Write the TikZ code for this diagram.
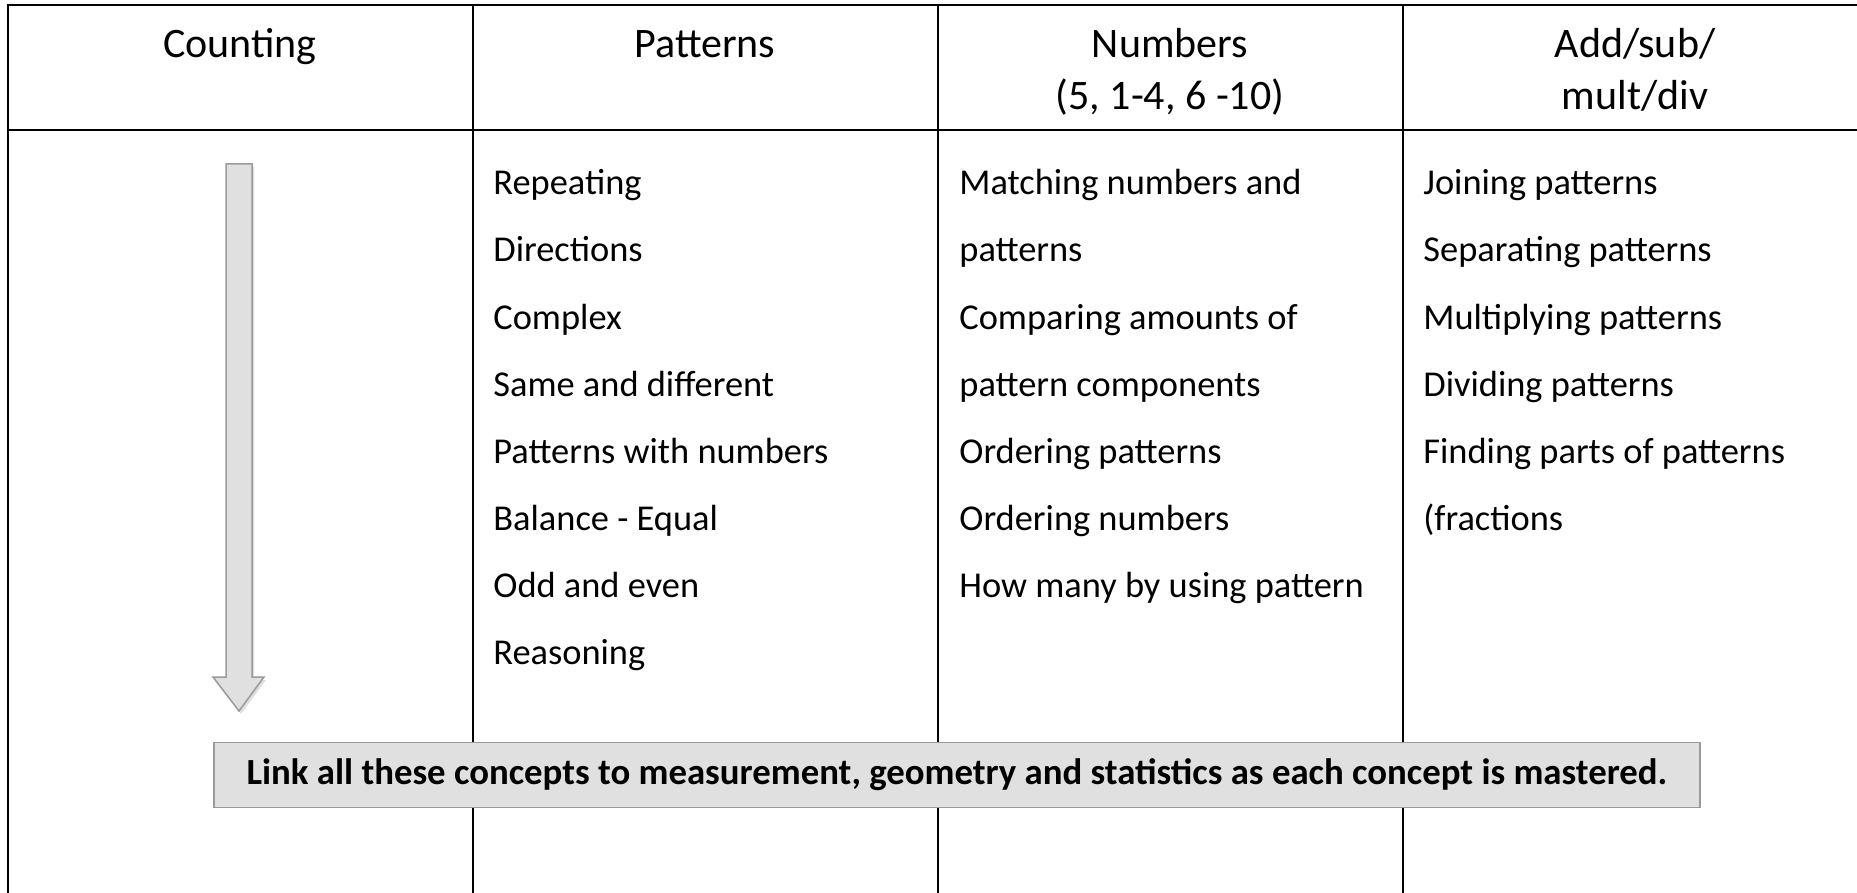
\documentclass[tikz,border=0pt]{standalone}
\usepackage{fontspec}
\setmainfont{Carlito}
\usetikzlibrary{positioning, shadows}
\definecolor{panelgray}{HTML}{E0E0E0}
\definecolor{edgegray}{HTML}{9A9A9A}

\begin{document}
\begin{tikzpicture}[
    x=0.5pt, y=-0.5pt,
    gridline/.style={
        line width=1.3pt,
        draw=black
    },
    head/.style={
        font=\fontsize{21}{26}\selectfont,
        align=center,
        anchor=base,
        inner sep=0pt
    },
    item/.style={
        font=\fontsize{18.2}{22}\selectfont,
        anchor=base west,
        inner sep=0pt
    },
    banner/.style={
        draw=edgegray,
        fill=panelgray,
        line width=0.75pt,
        minimum width=743pt,
        minimum height=32.5pt,
        inner sep=0pt,
        font=\bfseries\fontsize{18.4}{22}\selectfont
    },
    downarrow/.style={
        fill=panelgray,
        draw=edgegray,
        line width=0.75pt,
        drop shadow={opacity=0.25, shadow xshift=1pt, shadow yshift=-1.5pt}
    }
]
\useasboundingbox (0,0) rectangle (1857,893);

% Table grid (right border lies beyond the cropped edge)
\draw[gridline] (8,893) -- (8,5) -- (1857,5);
\draw[gridline] (8,130) -- (1857,130);
\draw[gridline] (473,5) -- (473,893);
\draw[gridline] (938,5) -- (938,893);
\draw[gridline] (1403,5) -- (1403,893);

% Column headers (base = last line)
\node[head] (hcount) at (240, 58) {Counting};
\node[head] (hpattern) at (705, 58) {Patterns};
\node[head] (hnumber) at (1170, 110) {Numbers\\(5, 1-4, 6 -10)};
\node[head] (hoper) at (1635, 110) {Add/sub/\\mult/div};

% Counting arrow
\filldraw[downarrow] (226,164) -- (252,164) -- (252,677) -- (264,677)
    -- (239,711) -- (213,677) -- (226,677) -- cycle;

% Patterns column
\foreach \txt [count=\i] in {Repeating, Directions, Complex, Same and different,
    Patterns with numbers, Balance - Equal, Odd and even, Reasoning}
    \node[item] (pat\i) at (493, {128+67*\i}) {\txt};

% Numbers column
\foreach \txt [count=\i] in {Matching numbers and, patterns, Comparing amounts of,
    pattern components, Ordering patterns, Ordering numbers, How many by using pattern}
    \node[item] (num\i) at (959, {128+67*\i}) {\txt};

% Add/sub/mult/div column
\foreach \txt [count=\i] in {Joining patterns, Separating patterns, Multiplying patterns,
    Dividing patterns, Finding parts of patterns, {(fractions}}
    \node[item] (op\i) at (1423, {128+67*\i}) {\txt};

% Banner
\node[banner] (link) at (957, 775) {Link all these concepts to measurement, geometry and statistics as each concept is mastered.};

\end{tikzpicture}
\end{document}
